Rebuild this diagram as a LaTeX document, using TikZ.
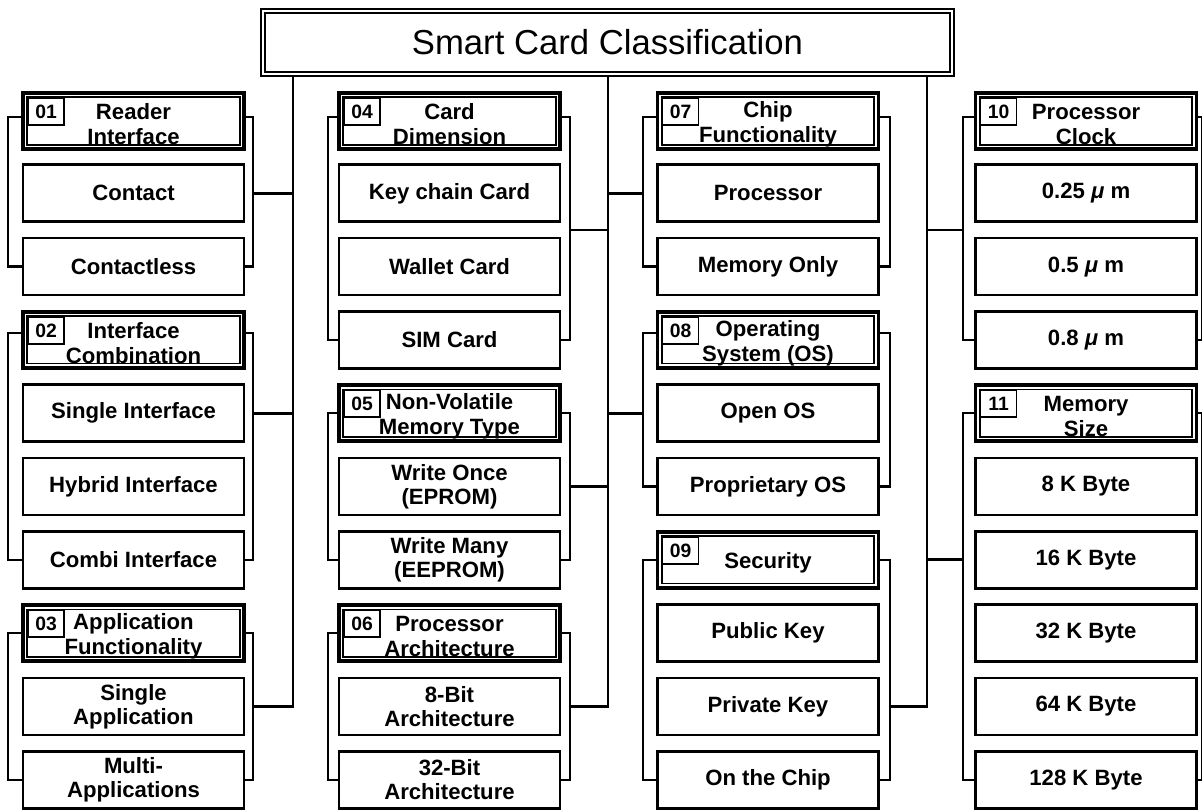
\documentclass[tikz,border=0pt]{standalone}
\usepackage{fontspec}
\setmainfont{Liberation Sans}
\usetikzlibrary{calc}

% one drawing unit = 0.75pt
\newdimen\pxu \pxu=0.75pt
\newcommand{\itemfont}{\fontsize{16.6}{18}\selectfont\bfseries}
\newcommand{\hdrfont}{\fontsize{16.6}{18.75}\selectfont\bfseries}
\newcommand{\numfont}{\fontsize{14.5}{14.5}\selectfont\bfseries}
\newcommand{\titlefont}{\fontsize{26}{28}\selectfont}

\tikzset{
  item/.style={draw, line width=2pt, minimum width=221\pxu, minimum height=57\pxu,
    inner sep=0pt, align=center, font=\itemfont},
  hdr/.style={draw, line width=2.6pt, minimum width=221\pxu, minimum height=56\pxu,
    inner sep=0pt},
  hdrtext/.style={inner sep=0pt, align=center, font=\hdrfont},
  hdrinner/.style={line width=1.2pt},
  numbox/.style={draw, line width=1.2pt, minimum width=36\pxu, minimum height=27\pxu,
    inner sep=0pt, anchor=north west, font=\numfont},
  bracket/.style={line width=1.7pt},
  trunk/.style={line width=2.1pt},
}

% header with double border, number tag and two-line caption
\newcommand{\groupheader}[5]{% name, x, y, number, text
  \node[hdr] (#1) at (#2,#3) {};
  \draw[hdrinner] ([shift={(6,6)}]#1.north west) rectangle ([shift={(-6,-6)}]#1.south east);
  \node[numbox] (#1n) at ([shift={(6,6)}]#1.north west) {#4};
  \node[hdrtext] (#1t) at ([yshift=-2.4pt]#1.center) {#5};
}

\begin{document}
\begin{tikzpicture}[x=0.75pt, y=-0.75pt]
\fill[white] (0,0) rectangle (1202,812);
\useasboundingbox (0,0) rectangle (1202,812);

% title
\node[draw, line width=2.2pt, minimum width=693\pxu, minimum height=67\pxu,
  inner sep=0pt, font=\titlefont] (title) at (607.5,42.5) {Smart Card Classification};
\draw[line width=1.3pt] ([shift={(5.5,5.5)}]title.north west) rectangle ([shift={(-5.5,-5.5)}]title.south east);

% column 1
\groupheader{h01}{133.5}{121}{01}{Reader\\Interface}
\node[item] (i01a) at (133.5,193.3) {Contact};
\node[item] (i01b) at (133.5,266.6) {Contactless};
\groupheader{h02}{133.5}{339.9}{02}{Interface\\Combination}
\node[item] (i02a) at (133.5,413.2) {Single Interface};
\node[item] (i02b) at (133.5,486.5) {Hybrid Interface};
\node[item] (i02c) at (133.5,559.8) {Combi Interface};
\groupheader{h03}{133.5}{633.1}{03}{Application\\Functionality}
\node[item] (i03a) at (133.5,706.4) {Single\\Application};
\node[item] (i03b) at (133.5,779.7) {Multi-\\Applications};

% column 2
\groupheader{h04}{449.5}{121}{04}{Card\\Dimension}
\node[item] (i04a) at (449.5,193.3) {Key chain Card};
\node[item] (i04b) at (449.5,266.6) {Wallet Card};
\node[item] (i04c) at (449.5,339.9) {SIM Card};
\groupheader{h05}{449.5}{413.2}{05}{Non-Volatile\\Memory Type}
\node[item] (i05a) at (449.5,486.5) {Write Once\\(EPROM)};
\node[item] (i05b) at (449.5,559.8) {Write Many\\(EEPROM)};
\groupheader{h06}{449.5}{633.1}{06}{Processor\\Architecture}
\node[item] (i06a) at (449.5,706.4) {8-Bit\\Architecture};
\node[item] (i06b) at (449.5,779.7) {32-Bit\\Architecture};

% column 3
\groupheader{h07}{768}{121}{07}{Chip\\Functionality}
\node[item] (i07a) at (768,193.3) {Processor};
\node[item] (i07b) at (768,266.6) {Memory Only};
\groupheader{h08}{768}{339.9}{08}{Operating\\System (OS)}
\node[item] (i08a) at (768,413.2) {Open OS};
\node[item] (i08b) at (768,486.5) {Proprietary OS};
\groupheader{h09}{768}{559.8}{09}{Security}
\node[item] (i09a) at (768,633.1) {Public Key};
\node[item] (i09b) at (768,706.4) {Private Key};
\node[item] (i09c) at (768,779.7) {On the Chip};

% column 4
\groupheader{h10}{1086}{121}{10}{Processor\\Clock}
\node[item] (i10a) at (1086,193.3) {0.25 {\itshape μ} m};
\node[item] (i10b) at (1086,266.6) {0.5 {\itshape μ} m};
\node[item] (i10c) at (1086,339.9) {0.8 {\itshape μ} m};
\groupheader{h11}{1086}{413.2}{11}{Memory\\Size}
\node[item] (i11a) at (1086,486.5) {8 K Byte};
\node[item] (i11b) at (1086,559.8) {16 K Byte};
\node[item] (i11c) at (1086,633.1) {32 K Byte};
\node[item] (i11d) at (1086,706.4) {64 K Byte};
\node[item] (i11e) at (1086,779.7) {128 K Byte};

% group brackets
\draw[bracket] ([yshift=3pt]h01.west) -- ++(-13,0) coordinate (l01) |- (i01b.west);
\draw[bracket] ([yshift=3pt]h01.east) -- ++(7,0) coordinate (r01) |- (i01b.east);
\draw[bracket] ([yshift=5pt]h02.west) -- ++(-13,0) coordinate (l02) |- (i02c.west);
\draw[bracket] ([yshift=5pt]h02.east) -- ++(7,0) coordinate (r02) |- (i02c.east);
\draw[bracket] (h03.west) -- ++(-13,0) coordinate (l03) |- (i03b.west);
\draw[bracket] (h03.east) -- ++(7,0) coordinate (r03) |- (i03b.east);

\draw[bracket] ([yshift=3pt]h04.west) -- ++(-9,0) coordinate (l04) |- (i04c.west);
\draw[bracket] ([yshift=3pt]h04.east) -- ++(8,0) coordinate (r04) |- (i04c.east);
\draw[bracket] (h05.west) -- ++(-9,0) coordinate (l05) |- (i05b.west);
\draw[bracket] (h05.east) -- ++(8,0) coordinate (r05) |- (i05b.east);
\draw[bracket] (h06.west) -- ++(-9,0) coordinate (l06) |- (i06b.west);
\draw[bracket] (h06.east) -- ++(8,0) coordinate (r06) |- (i06b.east);

\draw[bracket] ([yshift=3pt]h07.west) -- ++(-12.5,0) coordinate (l07) |- (i07b.west);
\draw[bracket] ([yshift=3pt]h07.east) -- ++(9.5,0) coordinate (r07) |- (i07b.east);
\draw[bracket] ([yshift=5pt]h08.west) -- ++(-12.5,0) coordinate (l08) |- (i08b.west);
\draw[bracket] ([yshift=5pt]h08.east) -- ++(9.5,0) coordinate (r08) |- (i08b.east);
\draw[bracket] (h09.west) -- ++(-12.5,0) coordinate (l09) |- (i09c.west);
\draw[bracket] (h09.east) -- ++(9.5,0) coordinate (r09) |- (i09c.east);

\draw[bracket] ([yshift=3pt]h10.west) -- ++(-10.5,0) coordinate (l10) |- (i10c.west);
\draw[bracket] ([yshift=3pt]h10.east) -- ++(3.5,0) coordinate (r10) |- (i10c.east);
\draw[bracket] (h11.west) -- ++(-10.5,0) coordinate (l11) |- (i11e.west);
\draw[bracket] (h11.east) -- ++(3.5,0) coordinate (r11) |- (i11e.east);

% trunks from the title
\coordinate (t1) at (293,76);
\coordinate (t2) at (608,76);
\coordinate (t3) at (927,76);
\coordinate (m04) at ($(i04a.east)!0.5!(i04b.east)$);
\coordinate (m10) at ($(i10a.west)!0.5!(i10b.west)$);

\draw[trunk] (t1) |- (r03 |- i03a.east);
\draw[trunk] (r01 |- i01a.east) -- (t1 |- i01a.east);
\draw[trunk] (r02 |- i02a.east) -- (t1 |- i02a.east);

\draw[trunk] (t2) |- (r06 |- i06a.east);
\draw[trunk] (r04 |- m04) -- (t2 |- m04);
\draw[trunk] (r05 |- i05a.east) -- (t2 |- i05a.east);
\draw[trunk] (l07 |- i07a.west) -- (t2 |- i07a.west);
\draw[trunk] (l08 |- i08a.west) -- (t2 |- i08a.west);

\draw[trunk] (t3) |- (r09 |- i09b.east);
\draw[trunk] (l10 |- m10) -- (t3 |- m10);
\draw[trunk] (l11 |- i11b.west) -- (t3 |- i11b.west);
\end{tikzpicture}
\end{document}
